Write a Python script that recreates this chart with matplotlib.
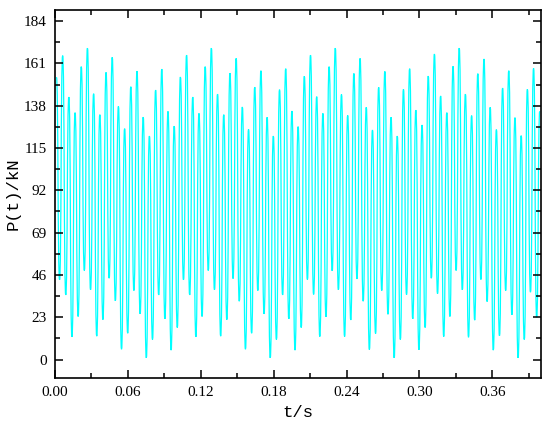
import matplotlib
matplotlib.use('Agg')
import matplotlib.pyplot as plt
import numpy as np
from matplotlib.path import Path
from matplotlib.patches import PathPatch
from matplotlib.ticker import MultipleLocator, FormatStrFormatter

# peak values of P(t) (kN)
peaks = [153.5, 165.2, 142.7, 134.2, 159.2, 169.3, 144.5, 133.1, 156.1, 164.3,
         137.6, 125.5, 148.3, 156.8, 131.8, 121.5, 146.5, 157.9, 134.9, 126.9,
         153.6, 165.5, 142.7, 133.8, 159.2, 169.3, 144.3, 133.1, 155.7, 163.7,
         137.3, 125.1, 148.1, 157.0, 131.7, 121.5, 146.7, 158.1, 135.1, 126.6,
         154.0, 165.5, 142.9, 133.8, 159.2, 169.3, 144.1, 132.7, 155.5, 163.7,
         137.1, 124.8, 148.0, 156.6, 131.7, 121.5, 146.9, 158.1, 135.6, 127.5,
         154.1, 166.1, 143.3, 134.2, 159.4, 169.3, 144.3, 132.6, 155.4, 163.4,
         137.1, 125.0, 147.6, 157.0, 131.5, 121.7, 146.9, 158.3, 135.0]

# trough values between consecutive peaks (kN)
troughs = [43.3, 35.1, 12.3, 23.4, 48.4, 37.9, 12.7, 21.7, 44.2, 31.9,
           5.6, 14.3, 37.5, 24.8, 0.9, 10.9, 35.1, 22.1, 5.1, 17.4,
           43.3, 35.1, 12.3, 23.4, 48.4, 37.9, 12.7, 21.7, 44.0, 31.7,
           5.6, 14.3, 37.5, 24.8, 0.9, 10.9, 35.1, 22.1, 5.1, 17.4,
           43.5, 35.4, 12.5, 23.2, 48.2, 37.9, 12.5, 21.5, 43.8, 31.7,
           5.4, 14.1, 37.5, 24.6, 0.9, 10.9, 35.3, 22.1, 5.3, 17.4,
           44.2, 35.8, 12.5, 23.4, 48.4, 37.9, 12.1, 21.4, 43.5, 31.5,
           5.1, 12.9, 37.5, 24.3, 0.9, 10.9, 36.6, 23.0]

t_first = 0.0012       # time of first peak (s)
half_period = 0.00255  # time between a peak and the next trough (s)

y_ticks = [0, 23, 46, 69, 92, 115, 138, 161, 184]
x_ticks = [0.00, 0.06, 0.12, 0.18, 0.24, 0.30, 0.36]

# interleave peaks and troughs into one series
values = []
for i, p in enumerate(peaks):
    values.append(p)
    if i < len(troughs):
        values.append(troughs[i])
values = np.array(values)
t = t_first + half_period * np.arange(len(values))

# smooth curve through the extrema: cubic segments, flat at each extremum
k = 0.6
verts = [(t[0], values[0])]
codes = [Path.MOVETO]
for i in range(len(t) - 1):
    h = t[i + 1] - t[i]
    verts += [(t[i] + k * h, values[i]), (t[i + 1] - k * h, values[i + 1]),
              (t[i + 1], values[i + 1])]
    codes += [Path.CURVE4] * 3

plt.rcParams['font.family'] = ['Liberation Serif', 'DejaVu Serif']

fig = plt.figure(figsize=(5.5, 4.29), dpi=100)
ax = fig.add_axes([0.1, 0.119, 0.8836, 0.8577])

curve = PathPatch(Path(verts, codes), facecolor='none', edgecolor='#00FFFF',
                  linewidth=0.9, transform=ax.transData, clip_on=True)
ax.add_patch(curve)

ax.set_xlim(0, 0.4)
ax.set_ylim(-10, 190)
ax.set_xticks(x_ticks)
ax.set_yticks(y_ticks)
ax.xaxis.set_major_formatter(FormatStrFormatter('%.2f'))
ax.xaxis.set_minor_locator(MultipleLocator(0.03))
ax.yaxis.set_minor_locator(MultipleLocator(11.5))

ax.tick_params(which='both', direction='in', top=True, right=True,
               width=1.1, labelsize=11, pad=6)
ax.tick_params(which='major', length=6)
ax.tick_params(which='minor', length=3.5)
for s in ax.spines.values():
    s.set_linewidth(1.2)

ax.set_xlabel('t/s', fontsize=12.5, family=['Liberation Mono'], labelpad=4)
ax.set_ylabel('P(t)/kN', fontsize=12.5, family=['Liberation Mono'], labelpad=2)

fig.savefig('out.png', dpi=100)
